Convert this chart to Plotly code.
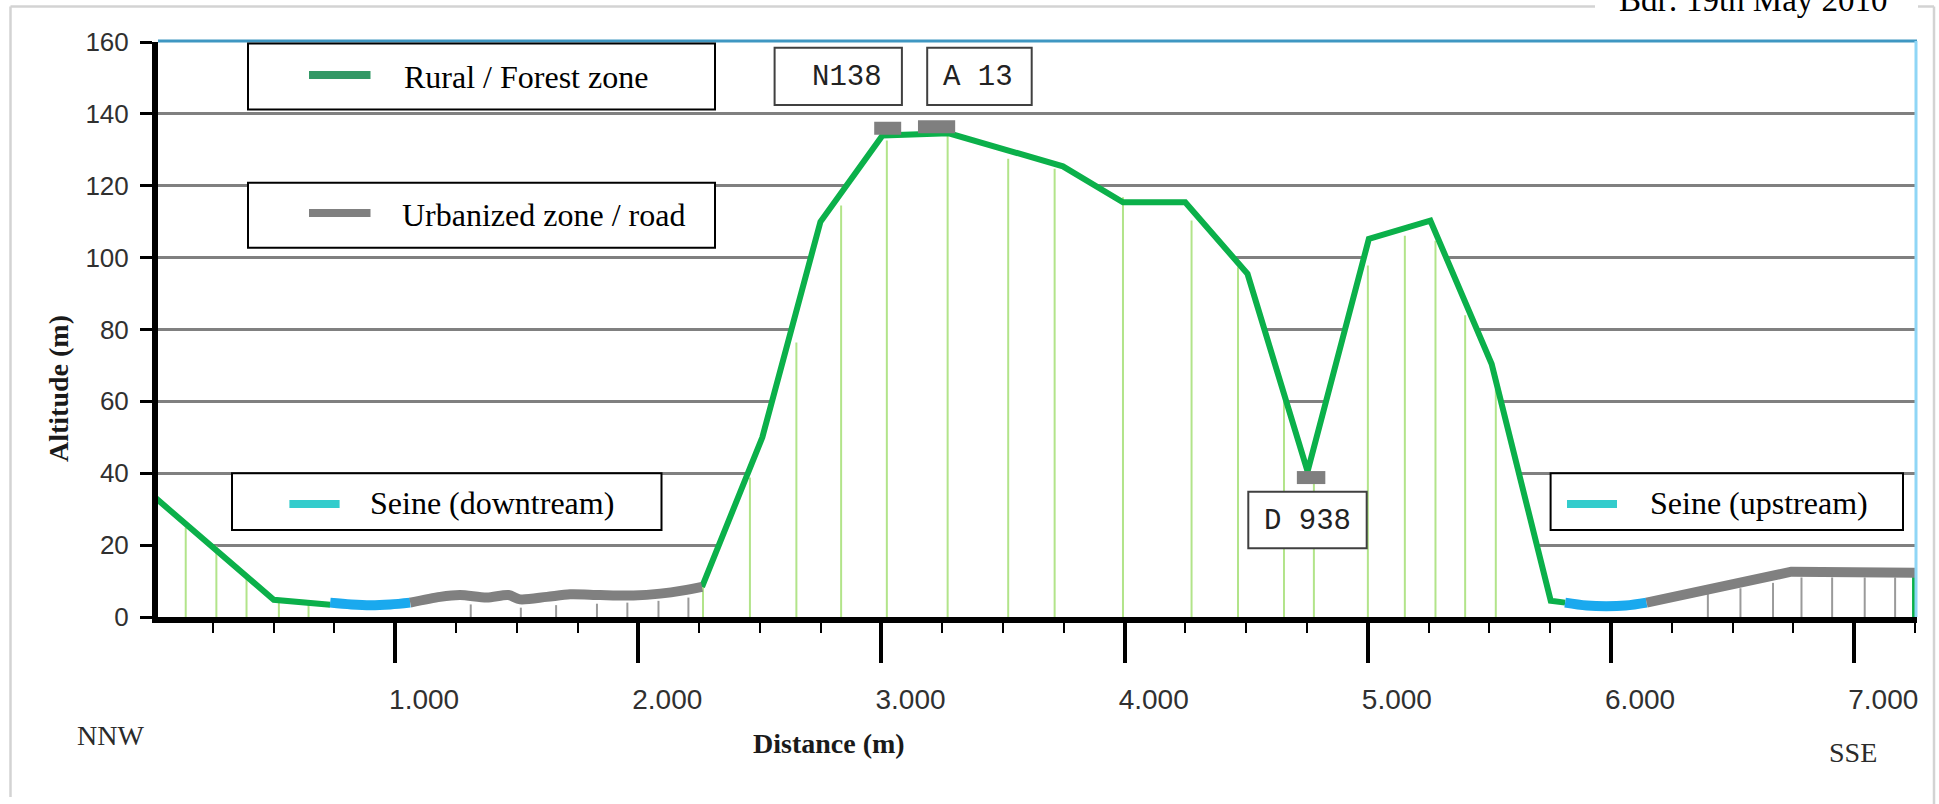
import plotly.graph_objects as go

# ---------------- data (distance in m, altitude in m) ----------------
rural_west_dist = [0, 501, 733]
rural_west_alt = [34.0, 4.8, 3.4]
seine_down_dist = [733, 820, 900, 980, 1062]
seine_down_alt = [4.0, 3.5, 3.3, 3.5, 4.0]
urban_west_dist = [1062, 1185, 1267, 1377, 1466, 1514, 1624, 1720, 1843, 1980, 2090, 2186, 2262]
urban_west_alt = [4.0, 5.6, 6.1, 5.4, 6.1, 4.9, 5.6, 6.3, 6.1, 6.0, 6.5, 7.4, 8.4]
rural_hills_dist = [2262, 2510, 2749, 3004, 3277, 3746, 3993, 4249, 4505, 4752, 5004, 5257, 5509, 5752, 5811]
rural_hills_alt = [8.4, 50.0, 110.0, 134.0, 134.6, 125.4, 115.4, 115.4, 95.5, 40.5, 105.2, 110.3, 70.4, 4.5, 4.0]
seine_up_dist = [5811, 5900, 5980, 6060, 6146]
seine_up_alt = [4.0, 3.2, 3.0, 3.2, 4.0]
urban_east_dist = [6146, 6741, 7250]
urban_east_alt = [4.0, 12.6, 12.3]
rural_east_dist = [7250, 7250]
rural_east_alt = [12.3, 0.0]

drop_rural_dist = [139, 265, 389, 522, 644, 2266, 2459, 2650, 2834, 3022, 3272, 3521, 3712,
                   3993, 4275, 4466, 4655, 4778, 5000, 5152, 5278, 5400, 5526]
drop_rural_alt = [24.9, 19.8, 11.9, 4.6, 3.5, 8.4, 38.8, 76.4, 114.5, 132.6, 134.0, 127.5, 124.7,
                  116.8, 110.3, 97.3, 63.4, 37.4, 97.8, 106.1, 104.7, 84.0, 63.4]
drop_urban_dist = [1311, 1517, 1662, 1830, 1955, 2083, 2206, 6398, 6532, 6666, 6783, 6909, 7043, 7168]
drop_urban_alt = [3.5, 2.6, 3.3, 3.7, 4.0, 4.5, 5.4, 6.5, 8.0, 9.5, 11.0, 11.0, 11.0, 11.0]

road_names = ["N138", "A 13", "D 938"]
road_start = [2970, 3150, 4708]
road_end = [3081, 3303, 4825]
road_alt = [136.0, 136.4, 38.8]

legend_labels = ["Rural / Forest zone", "Urbanized zone / road", "Seine (downtream)", "Seine (upstream)"]
x_title = "Distance (m)"
y_title = "Altitude (m)"
date_note = "Bdr: 19th May 2010"
dir_left, dir_right = "NNW", "SSE"

# ---------------- styles ----------------
GREEN = "#0bb04a"
DROP_GREEN = "#b2e48a"
DROP_GRAY = "#9a9a9a"
URBAN = "#808080"
SEINE = "#1aa9ee"
SERIF = "Liberation Serif, Times New Roman, serif"
SANS = "Liberation Sans, Arial, sans-serif"
MONO = "Liberation Mono, Courier New, monospace"

L, R, T, B = 158, 22, 42, 187
WIDTH, HEIGHT = 1939, 804
W = WIDTH - L - R
H = HEIGHT - T - B


def px(x):
    return (x - L) / W


def py(y):
    return (HEIGHT - B - y) / H


def join(*parts):
    xs, ys = [], []
    for dx, dy in parts:
        if xs:
            xs.append(None)
            ys.append(None)
        xs += list(dx)
        ys += list(dy)
    return xs, ys


def drops(dx, dy):
    xs, ys = [], []
    for x, y in zip(dx, dy):
        xs += [x, x, None]
        ys += [0, y, None]
    return xs, ys


fig = go.Figure()

# white area under the profile (hides the grid lines)
fill_x = (rural_west_dist + seine_down_dist + urban_west_dist + rural_hills_dist
          + seine_up_dist + urban_east_dist + rural_east_dist)
fill_y = (rural_west_alt + seine_down_alt + urban_west_alt + rural_hills_alt
          + seine_up_alt + urban_east_alt + rural_east_alt)
fig.add_trace(go.Scatter(x=fill_x, y=fill_y, mode="lines", fill="tozeroy",
                         fillcolor="white", line=dict(width=0), hoverinfo="skip"))

dx, dy = drops(drop_rural_dist, drop_rural_alt)
fig.add_trace(go.Scatter(x=dx, y=dy, mode="lines", line=dict(color=DROP_GREEN, width=2)))
dx, dy = drops(drop_urban_dist, drop_urban_alt)
fig.add_trace(go.Scatter(x=dx, y=dy, mode="lines", line=dict(color=DROP_GRAY, width=2)))

rx, ry = join((rural_west_dist, rural_west_alt), (rural_hills_dist, rural_hills_alt),
              (rural_east_dist, rural_east_alt))
fig.add_trace(go.Scatter(x=rx, y=ry, mode="lines", line=dict(color=GREEN, width=6)))
sx, sy = join((seine_down_dist, seine_down_alt), (seine_up_dist, seine_up_alt))
fig.add_trace(go.Scatter(x=sx, y=sy, mode="lines", line=dict(color=SEINE, width=10, shape="spline")))
fig.add_trace(go.Scatter(x=urban_west_dist, y=urban_west_alt, mode="lines",
                         line=dict(color=URBAN, width=10, shape="spline", smoothing=0.8)))
fig.add_trace(go.Scatter(x=urban_east_dist, y=urban_east_alt, mode="lines",
                         line=dict(color=URBAN, width=10)))

kx, ky = [], []
for s, e, a in zip(road_start, road_end, road_alt):
    kx += [s, e, None]
    ky += [a, a, None]
fig.add_trace(go.Scatter(x=kx, y=ky, mode="lines", line=dict(color="#7f7f7f", width=13)))

shapes = []
annotations = []


def pline(x0, y0, x1, y1, color, width):
    shapes.append(dict(type="line", xref="paper", yref="paper", x0=px(x0), y0=py(y0),
                       x1=px(x1), y1=py(y1), line=dict(color=color, width=width), layer="above"))


def prect(x0, y0, x1, y1, color, width=2):
    shapes.append(dict(type="rect", xref="paper", yref="paper", x0=px(x0), y0=py(y0),
                       x1=px(x1), y1=py(y1), fillcolor="white",
                       line=dict(color=color, width=width), layer="above"))


def ptext(x, y, text, font, xanchor="center", yanchor="middle", angle=0):
    annotations.append(dict(x=px(x), y=py(y), xref="paper", yref="paper", text=text,
                            showarrow=False, font=font, xanchor=xanchor, yanchor=yanchor,
                            textangle=angle))


# outer frame
FRAME = "#d3d3d3"
pline(10.5, 6.5, 1595, 6.5, FRAME, 2.5)
pline(1918, 6.5, 1934, 6.5, FRAME, 2.5)
pline(10.5, 6.5, 10.5, 797, FRAME, 2.5)
pline(1934, 6.5, 1934, 804, FRAME, 2.5)

# plot border (top / right)
pline(L, 41, 1917, 41, "#3f97c2", 3)
pline(1916, 41, 1916, 617, "#8fd6f6", 3)

# legend boxes
legend_boxes = [
    ((248, 43.5, 715, 109.5), (309, 370.5, 75), "#339966", (402, 77)),
    ((248, 182.7, 715, 247.7), (309, 370.5, 213), "#808080", (399.5, 215)),
    ((232, 473.3, 661.5, 530), (289.4, 339.6, 504), "#33cccc", (368.3, 503)),
    ((1550.6, 473.3, 1903, 530), (1567, 1617, 504), "#33cccc", (1648.4, 503)),
]
for label, (box, sw, col, tp) in zip(legend_labels, legend_boxes):
    prect(*box, color="black", width=2)
    pline(sw[0], sw[2], sw[1], sw[2], col, 8)
    ptext(tp[0], tp[1], label, dict(family=SERIF, size=32, color="black"), xanchor="left")

# road label boxes
road_boxes = [
    ((774.6, 47.7, 901.9, 105), (846.6, 77.5)),
    ((927.2, 47.7, 1031.7, 105), (978, 77.5)),
    ((1248.3, 491.7, 1366.7, 548.3), (1307.5, 521.5)),
]
for name, (box, tp) in zip(road_names, road_boxes):
    prect(*box, color="#404040", width=2)
    ptext(tp[0], tp[1], name, dict(family=MONO, size=29, color="#222222"))

# texts
ptext(110.5, 735, dir_left, dict(family=SERIF, size=28, color="#2b2b2b"))
ptext(1853, 752, dir_right, dict(family=SERIF, size=28, color="#2b2b2b"))
ptext(829, 743, "<b>" + x_title + "</b>", dict(family=SERIF, size=28, color="#1a1a1a"))
ptext(58, 389, "<b>" + y_title + "</b>", dict(family=SERIF, size=28, color="#1a1a1a"), angle=-90)
annotations.append(dict(x=px(1616.7), y=py(20), xref="paper", yref="paper", text=date_note,
                        showarrow=False, xanchor="left", yanchor="bottom", bgcolor="white",
                        font=dict(family=SERIF, size=33, color="black")))

fig.update_layout(
    width=WIDTH, height=HEIGHT,
    margin=dict(l=L, r=R, t=T, b=B, pad=0),
    paper_bgcolor="white", plot_bgcolor="white",
    showlegend=False,
    separators=",.",
    shapes=shapes, annotations=annotations,
    xaxis=dict(range=[25, 7258], tick0=0, dtick=1000, tickformat=",d",
               showgrid=False, zeroline=False,
               showline=True, linecolor="black", linewidth=6,
               ticks="outside", ticklen=40, tickwidth=4, tickcolor="black",
               ticklabelshift=29, ticklabelstandoff=12,
               tickfont=dict(family=SANS, size=28, color="#303030"),
               minor=dict(dtick=250, tick0=0, ticks="outside", ticklen=10, tickwidth=2,
                          tickcolor="black", showgrid=False)),
    yaxis=dict(range=[0, 160], tick0=0, dtick=20,
               showgrid=True, gridcolor="#808080", gridwidth=3, zeroline=False,
               showline=True, linecolor="black", linewidth=6,
               ticks="outside", ticklen=12, tickwidth=3, tickcolor="black",
               ticklabelstandoff=6,
               tickfont=dict(family=SANS, size=26, color="#303030")),
)

fig.write_html("out.html")
